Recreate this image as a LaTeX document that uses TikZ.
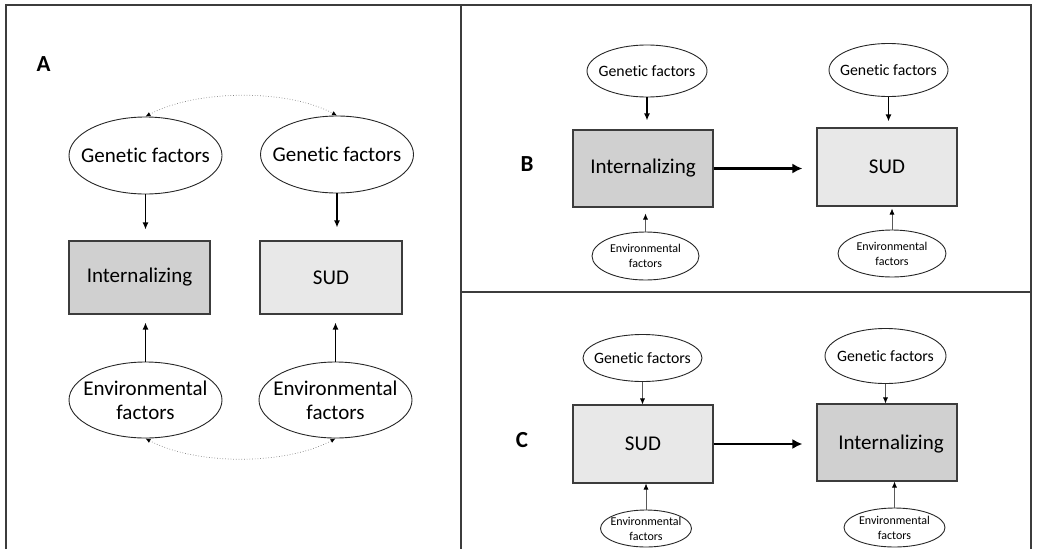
\documentclass[tikz,border=0pt]{standalone}
\usepackage{fontspec}
\setmainfont[Ligatures=NoCommon]{Carlito}
\usepackage{xcolor}
\usepackage{tikz}
\usetikzlibrary{shapes,arrows,arrows.meta,positioning}
\definecolor{intfill}{RGB}{208,208,208}
\definecolor{sudfill}{RGB}{232,232,232}
\definecolor{edge}{RGB}{60,60,60}
\tikzstyle{frame} = [draw=edge, line width=1.8pt]
\tikzstyle{factor} = [ellipse, draw=black!85, line width=0.9pt, inner sep=0pt]
\tikzstyle{trait} = [rectangle, draw=edge, line width=1.1pt, inner sep=0pt, text centered]
\tikzstyle{bigtext} = [font=\fontsize{21}{24}\selectfont, align=center]
\tikzstyle{midtext} = [font=\fontsize{15.8}{19}\selectfont, align=center]
\tikzstyle{smalltext} = [font=\fontsize{12}{15}\selectfont, align=center]
\tikzstyle{panel} = [font=\fontsize{23}{23}\selectfont\bfseries]
\tikzstyle{line} = [draw, -{Latex[length=7pt,width=6pt]}, line width=1.3pt]
\tikzstyle{thin line} = [draw, -{Latex[length=6pt,width=5pt,black]}, line width=0.7pt, black!65]
\tikzstyle{thick line} = [draw, -{Latex[length=10pt,width=10pt]}, line width=2.8pt]
\tikzstyle{corr} = [draw=gray, dotted, {Latex[length=5pt,width=4.5pt,black]}-{Latex[length=5pt,width=4.5pt,black]}, line width=0.7pt]

\begin{document}
\begin{tikzpicture}[x=1pt, y=-1pt]
    \useasboundingbox (0,0) rectangle (1038,549);
    % frames
    \draw [frame] (6,549) -- (6,5) -- (1031,5) -- (1031,549);
    \draw [frame] (461,5) -- (461,549);
    \draw [frame] (461,292) -- (1031,292);

    % panel A
    \node [panel] (labA) at (43.5,64.5) {A};
    \node [factor, minimum width=153pt, minimum height=77pt, label={[bigtext]center:Genetic factors}] (genIntA) at (145.5,155.5) {};
    \node [factor, minimum width=153pt, minimum height=77pt, label={[bigtext]center:Genetic factors}] (genSudA) at (337,154.5) {};
    \node [trait, fill=intfill, bigtext, minimum width=141pt, minimum height=73pt] (intA) at (139.5,277.5) {Internalizing};
    \node [trait, fill=sudfill, bigtext, minimum width=142pt, minimum height=73pt] (sudA) at (331,277.5) {SUD};
    \node [factor, minimum width=153pt, minimum height=76pt, label={[bigtext]center:Environmental\\factors}] (envIntA) at (145.5,400) {};
    \node [factor, minimum width=153pt, minimum height=76pt, label={[bigtext]center:Environmental\\factors}] (envSudA) at (335.5,400) {};

    \path [line, shorten >=11pt] (genIntA.south) -- (genIntA.south |- intA.north);
    \path [line, shorten >=13pt] (genSudA.south) -- (genSudA.south |- sudA.north);
    \path [line, shorten >=8pt] (envIntA.north) -- (envIntA.north |- intA.south);
    \path [line, shorten >=8pt] (envSudA.north) -- (envSudA.north |- sudA.south);
    \path [corr] (genIntA.north) .. controls +(50,-27) and +(-50,-27) .. (genSudA.north);
    \path [corr] (envIntA.south) .. controls +(50,27) and +(-50,27) .. (envSudA.south);

    % panel B
    \node [panel] (labB) at (527,164.5) {B};
    \node [factor, minimum width=120pt, minimum height=52pt, label={[midtext]center:Genetic factors}] (genIntB) at (647,71) {};
    \node [factor, minimum width=119pt, minimum height=53pt, label={[midtext]center:Genetic factors}] (genSudB) at (888.5,70) {};
    \node [trait, fill=intfill, bigtext, minimum width=140pt, minimum height=77pt] (intB) at (643,168.5) {Internalizing};
    \node [trait, fill=sudfill, bigtext, minimum width=140pt, minimum height=78pt] (sudB) at (887,167) {SUD};
    \node [factor, minimum width=107pt, minimum height=48pt, label={[smalltext]center:Environmental\\factors}] (envIntB) at (645.5,256) {};
    \node [factor, minimum width=108pt, minimum height=47pt, label={[smalltext]center:Environmental\\factors}] (envSudB) at (892,253.5) {};

    \path [line, shorten >=9pt] (genIntB.south) -- (genIntB.south |- intB.north);
    \path [line, shorten >=6pt] (genSudB.south) -- (genSudB.south |- sudB.north);
    \path [thin line, shorten >=6pt] (envIntB.north) -- (envIntB.north |- intB.south);
    \path [thin line, shorten >=2pt] (envSudB.north) -- (envSudB.north |- sudB.south);
    \path [thick line, shorten >=14pt] (intB.east) -- (intB.east -| sudB.west);

    % panel C
    \node [panel] (labC) at (522,440) {C};
    \node [factor, minimum width=119pt, minimum height=47pt, label={[midtext]center:Genetic factors}] (genSudC) at (642.5,358) {};
    \node [factor, minimum width=121pt, minimum height=55pt, label={[midtext]center:Genetic factors}] (genIntC) at (885.5,356) {};
    \node [trait, fill=sudfill, bigtext, minimum width=140pt, minimum height=78pt] (sudC) at (643,444) {SUD};
    \node [trait, fill=intfill, bigtext, minimum width=140pt, minimum height=77pt, text depth=0pt] (intC) at (887,442.5) {\hspace{8pt}Internalizing};
    \node [factor, minimum width=91pt, minimum height=37pt, label={[smalltext]center:Environmental\\factors}] (envSudC) at (646,528.5) {};
    \node [factor, minimum width=101pt, minimum height=39pt, label={[smalltext]center:Environmental\\factors}] (envIntC) at (894.5,527.5) {};

    \path [thin line] (genSudC.south) -- (genSudC.south |- sudC.north);
    \path [thin line] (genIntC.south) -- (genIntC.south |- intC.north);
    \path [thin line] (envSudC.north) -- (envSudC.north |- sudC.south);
    \path [thin line] (envIntC.north) -- (envIntC.north |- intC.south);
    \path [thick line, shorten >=14pt] (sudC.east) -- (sudC.east -| intC.west);
\end{tikzpicture}
\end{document}
